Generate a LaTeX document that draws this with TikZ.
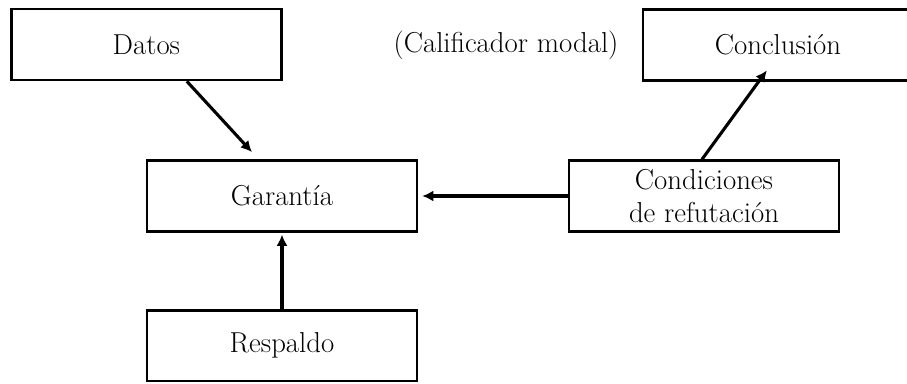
\documentclass[tikz,border=0pt]{standalone}
\usepackage{tikz}
\usetikzlibrary{arrows.meta}

\tikzset{
    caja/.style={draw, line width=1.8pt, minimum width=6.75cm, minimum height=1.77cm,
        align=center, font=\fontsize{20.5}{24}\selectfont},
    flecha/.style={line width=2.2pt, -{Latex[length=2.8mm, width=2.8mm]}},
}

\begin{document}
\begin{tikzpicture}
    \useasboundingbox (0, 0) rectangle (22.675, 9.575);

    % Fila superior
    \node[caja] (datos) at (3.66, 8.46) {Datos};
    \node[font=\fontsize{20.5}{24}\selectfont] (calificador) at (12.65, 8.45) {(Calificador modal)};
    \node[caja] (conclusion) at (19.45, 8.45) {Conclusi\'on};

    % Fila central
    \node[caja] (garantia) at (7.05, 4.675) {Garant\'ia};
    \node[caja] (refutacion) at (17.6, 4.675) {Condiciones\\de refutaci\'on};

    % Fila inferior
    \node[caja] (respaldo) at (7.05, 0.93) {Respaldo};

    % Flechas
    \draw[flecha] ([xshift=1.01cm]datos.south) -- ([xshift=-0.75cm, yshift=0.18cm]garantia.north);
    \draw[flecha, shorten >=0.1cm] (refutacion.west) -- (garantia.east);
    \draw[flecha, shorten >=0.05cm] (respaldo.north) -- (garantia.south);
    \draw[flecha] ([xshift=-0.05cm]refutacion.north) -- ([xshift=-0.28cm, yshift=0.28cm]conclusion.south);
\end{tikzpicture}
\end{document}
